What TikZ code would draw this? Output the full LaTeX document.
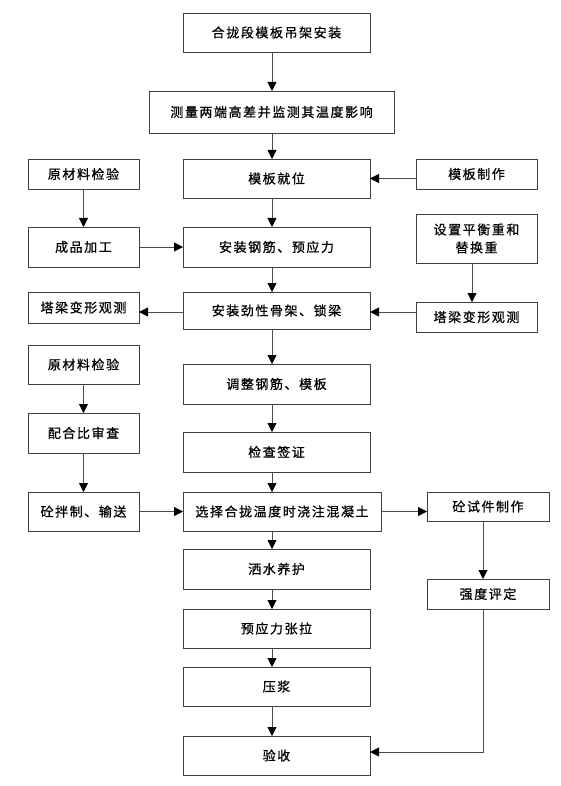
\documentclass[tikz,border=0pt]{standalone}
\usepackage{fontspec}
\setmainfont{Noto Sans CJK SC}[LetterSpace=12,FakeBold=0.8]
\usetikzlibrary{arrows.meta}
\begin{document}
\begin{tikzpicture}[x=1pt,y=-1pt,
  box/.style={draw=black!75,line width=0.9pt,inner sep=0pt,outer sep=0pt,
    font=\fontsize{13}{18}\selectfont,align=center,text=black},
  arr/.style={draw=black!70,line width=0.8pt,-{Triangle[length=9pt,width=9pt,color=black]}}]
\useasboundingbox (0,0) rectangle (561,786);
% centre column
\node[box,minimum width=187pt,minimum height=39pt] (b1) at (276.5,32.5) {合拢段模板吊架安装};
\node[box,minimum width=245pt,minimum height=42pt] (b2) at (271.5,112) {测量两端高差并监测其温度影响};
\node[box,minimum width=187pt,minimum height=39pt] (b3) at (276.5,178.5) {模板就位};
\node[box,minimum width=187pt,minimum height=40pt] (b4) at (276.5,247) {安装钢筋、预应力};
\node[box,minimum width=187pt,minimum height=37pt] (b5) at (276.5,310.5) {安装劲性骨架、锁梁};
\node[box,minimum width=187pt,minimum height=40pt] (b6) at (276.5,384) {调整钢筋、模板};
\node[box,minimum width=187pt,minimum height=40pt] (b7) at (276.5,452) {检查签证};
\node[box,minimum width=198pt,minimum height=39pt] (b8) at (282,511.5) {选择合拢温度时浇注混凝土};
\node[box,minimum width=187pt,minimum height=40pt] (b9) at (276.5,569) {洒水养护};
\node[box,minimum width=187pt,minimum height=39pt] (b10) at (276.5,628.5) {预应力张拉};
\node[box,minimum width=187pt,minimum height=39pt] (b11) at (276.5,686.5) {压浆};
\node[box,minimum width=187pt,minimum height=39pt] (b12) at (276.5,755.5) {验收};
% left column
\node[box,minimum width=111pt,minimum height=30pt] (l1) at (83.5,174) {原材料检验};
\node[box,minimum width=111pt,minimum height=40pt] (l2) at (83.5,247) {成品加工};
\node[box,minimum width=111pt,minimum height=31pt] (l3) at (83.5,307.5) {塔梁变形观测};
\node[box,minimum width=111pt,minimum height=39pt] (l4) at (83.5,364.5) {原材料检验};
\node[box,minimum width=111pt,minimum height=40pt] (l5) at (83.5,433) {配合比审查};
\node[box,minimum width=111pt,minimum height=39pt] (l6) at (83.5,511.5) {砼拌制、输送};
% right column
\node[box,minimum width=121pt,minimum height=30pt] (r1) at (476.5,174) {模板制作};
\node[box,minimum width=121pt,minimum height=49pt] (r2) at (476.5,238.5) {设置平衡重和\\替换重};
\node[box,minimum width=121pt,minimum height=30pt] (r3) at (476.5,317) {塔梁变形观测};
\node[box,minimum width=122pt,minimum height=29pt] (r4) at (488,506.5) {砼试件制作};
\node[box,minimum width=122pt,minimum height=30pt] (r5) at (488,594) {强度评定};
% column coordinates
\coordinate (cx) at (272,0);
\coordinate (rx) at (472,0);
\coordinate (sx) at (483,0);
\coordinate (b5w) at ([yshift=-1.5pt]b5.west);
\coordinate (b5e) at ([yshift=-1.5pt]b5.east);
\coordinate (b12e) at ([yshift=3.5pt]b12.east);
% centre arrows
\foreach \a/\b in {b1/b2,b2/b3,b3/b4,b4/b5,b5/b6,b6/b7,b7/b8,b8/b9,b9/b10,b10/b11,b11/b12}
  \draw[arr] (\a.south -| cx) -- (\b.north -| cx);
% left arrows
\draw[arr] (l1) -- (l2);
\draw[arr] (l4) -- (l5);
\draw[arr] (l5) -- (l6);
\draw[arr] (l2) -- (b4);
\draw[arr] (l6) -- (b8);
\draw[arr] (b5w) -- (l3.east |- b5w);
% right arrows
\draw[arr] (r1.west |- b3.east) -- (b3.east);
\draw[arr] (r2.south -| rx) -- (r3.north -| rx);
\draw[arr] (r3.west |- b5e) -- (b5e);
\draw[arr] (b8.east) -- (r4.west |- b8.east);
\draw[arr] (r4.south -| sx) -- (r5.north -| sx);
\draw[arr] (r5.south -| sx) |- (b12e);
\end{tikzpicture}
\end{document}
